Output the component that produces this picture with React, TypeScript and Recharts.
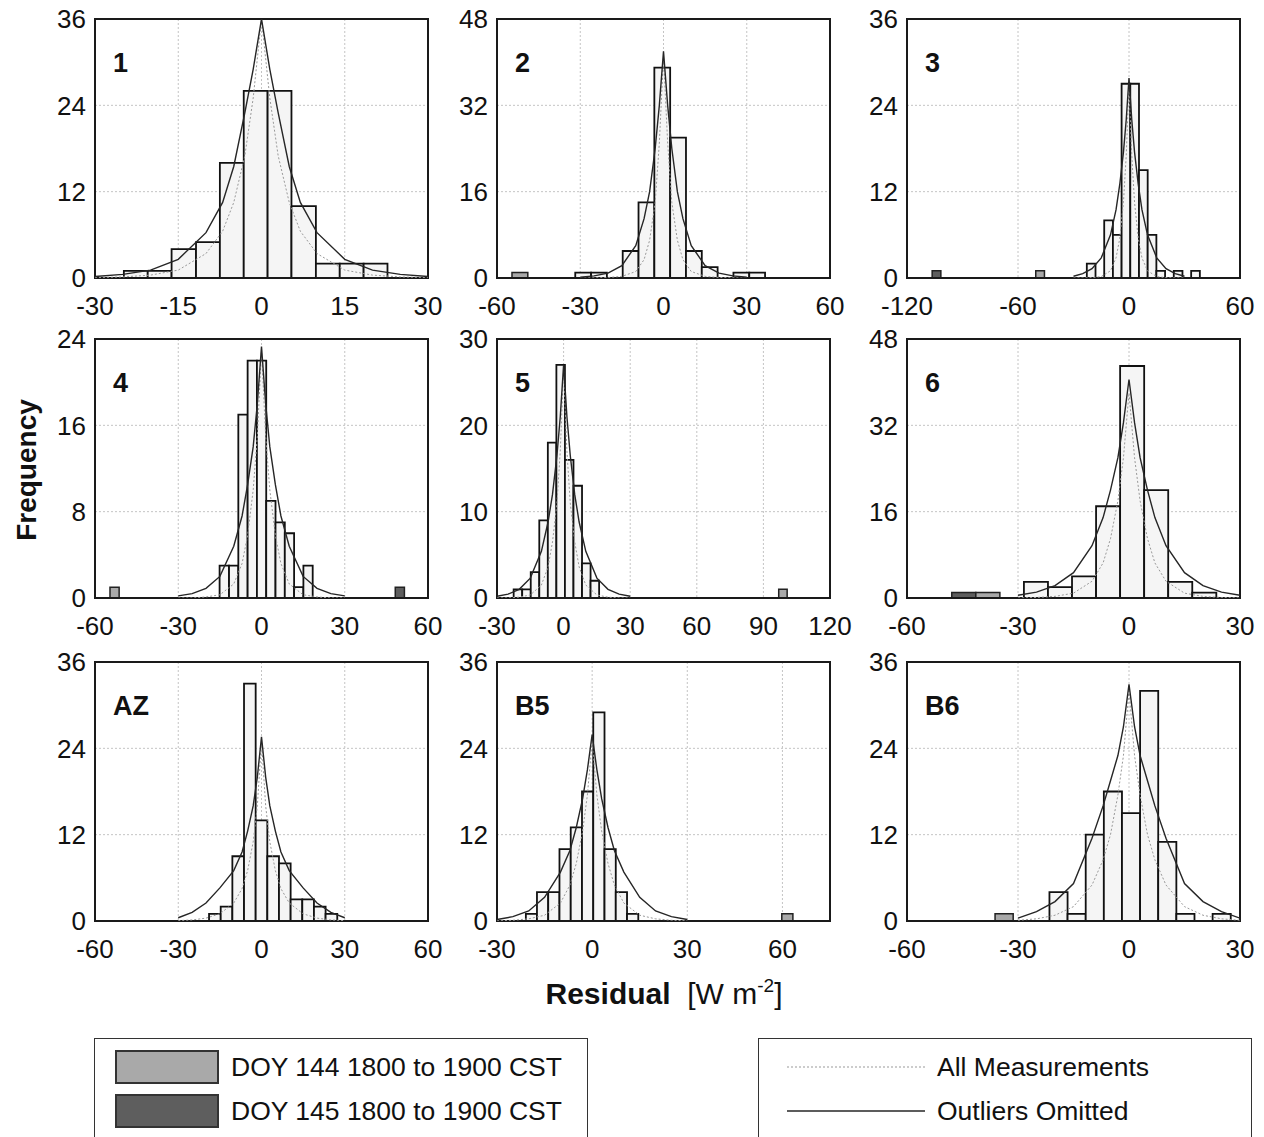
import { ComposedChart, XAxis, YAxis, CartesianGrid, Line, ReferenceArea } from 'recharts'

const CURVE_X = [-30, -25, -20, -15, -10, -7, -5, -3, -1.5, 0, 1.5, 3, 5, 7, 10, 15, 20, 25, 30]

// ---- panel 1
const P1_EDGES = [-24.8, -20.5, -16.2, -11.8, -7.5, -3.2, 1.1, 5.4, 9.8, 14.1, 18.4, 22.7]
const P1_COUNTS = [1, 1, 4, 5, 16, 26, 26, 10, 2, 2, 2]
const P1_ALL = [0.05, 0.15, 0.4, 1.1, 3.4, 6.5, 10.5, 17, 25, 36, 25, 17, 10.5, 6.5, 3.4, 1.1, 0.4, 0.15, 0.05]
const P1_OMIT = [0.2, 0.5, 1.1, 2.6, 6.3, 10.5, 15.5, 23, 29, 36, 29, 23, 15.5, 10.5, 6.3, 2.6, 1.1, 0.5, 0.2]

// ---- panel 2
const P2_EDGES = [-31.8, -26.1, -20.4, -14.7, -9.0, -3.3, 2.4, 8.1, 13.8, 19.5, 25.2, 30.9, 36.6]
const P2_COUNTS = [1, 1, 0, 5, 14, 39, 26, 5, 2, 0, 1, 1]
const P2_OUTLIERS = [{ lo: -54.6, hi: -48.9, n: 1, doy: 144 }]
const P2_ALL = [0, 0.03, 0.1, 0.3, 1.2, 3.4, 7, 14, 25, 41, 25, 14, 7, 3.4, 1.2, 0.3, 0.1, 0.03, 0]
const P2_OMIT = [0.15, 0.4, 0.9, 2.3, 6, 11, 16, 24, 32, 42, 32, 24, 16, 11, 6, 2.3, 0.9, 0.4, 0.15]

// ---- panel 3
const P3_EDGES = [-22.8, -18.1, -13.4, -8.7, -4.0, 0.7, 5.4, 10.1, 14.8, 19.5, 24.2, 28.9, 33.6, 38.3]
const P3_COUNTS = [2, 0, 8, 6, 27, 27, 15, 6, 1, 0, 1, 0, 1]
const P3_OUTLIERS = [
  { lo: -106.4, hi: -101.7, n: 1, doy: 145 },
  { lo: -50.4, hi: -45.7, n: 1, doy: 144 },
]
const P3_ALL = [0, 0, 0.05, 0.2, 1, 2.8, 5.5, 10.5, 17, 27, 17, 10.5, 5.5, 2.8, 1, 0.2, 0.05, 0, 0]
const P3_OMIT = [0.25, 0.6, 1.3, 2.8, 6, 9.5, 13, 17.5, 22, 27.8, 22, 17.5, 13, 9.5, 6, 2.8, 1.3, 0.6, 0.25]

// ---- panel 4
const P4_EDGES = [-15.1, -11.7, -8.35, -5.0, -1.65, 1.7, 5.05, 8.4, 11.75, 15.1, 18.45]
const P4_COUNTS = [3, 3, 17, 22, 22, 9, 7, 6, 1, 3]
const P4_OUTLIERS = [
  { lo: -54.6, hi: -51.3, n: 1, doy: 144 },
  { lo: 48.2, hi: 51.5, n: 1, doy: 145 },
]
const P4_ALL = [0, 0, 0.1, 0.3, 1.3, 3.2, 5.8, 10, 15, 23, 15, 10, 5.8, 3.2, 1.3, 0.3, 0.1, 0, 0]
const P4_OMIT = [0.2, 0.4, 0.9, 2, 4.8, 7.6, 10.5, 14, 18, 23.3, 18, 14, 10.5, 7.6, 4.8, 2, 0.9, 0.4, 0.2]

// ---- panel 5
const P5_EDGES = [-22.5, -18.65, -14.8, -10.95, -7.1, -3.25, 0.6, 4.45, 8.3, 12.15, 16.0]
const P5_COUNTS = [1, 1, 3, 9, 18, 27, 16, 13, 4, 2]
const P5_OUTLIERS = [{ lo: 96.9, hi: 100.7, n: 1, doy: 144 }]
const P5_ALL = [0, 0, 0.1, 0.35, 1.5, 3.6, 6.5, 11, 17, 26.5, 17, 11, 6.5, 3.6, 1.5, 0.35, 0.1, 0, 0]
const P5_OMIT = [0.2, 0.45, 1, 2.3, 5.4, 8.8, 12, 16.5, 21, 27, 21, 16.5, 12, 8.8, 5.4, 2.3, 1, 0.45, 0.2]

// ---- panel 6
const P6_EDGES = [-28.4, -21.9, -15.4, -8.9, -2.4, 4.1, 10.6, 17.1, 23.6]
const P6_COUNTS = [3, 2, 4, 17, 43, 20, 3, 1]
const P6_OUTLIERS = [
  { lo: -47.9, hi: -41.4, n: 1, doy: 145 },
  { lo: -41.4, hi: -34.9, n: 1, doy: 144 },
]
const P6_ALL = [0, 0.1, 0.3, 0.9, 3.1, 6.5, 11, 18, 26, 38, 26, 18, 11, 6.5, 3.1, 0.9, 0.3, 0.1, 0]
const P6_OMIT = [0.5, 1.1, 2.3, 4.7, 9.7, 14.9, 20, 26, 32.5, 40.5, 32.5, 26, 20, 14.9, 9.7, 4.7, 2.3, 1.1, 0.5]

// ---- AZ
const AZ_EDGES = [-18.9, -14.7, -10.5, -6.3, -2.1, 2.1, 6.3, 10.5, 14.7, 18.9, 23.1, 27.3]
const AZ_COUNTS = [1, 2, 9, 33, 14, 9, 8, 3, 3, 2, 1]
const AZ_ALL = [0.05, 0.15, 0.4, 1, 2.5, 4.5, 7, 11, 16, 25, 16, 11, 7, 4.5, 2.5, 1, 0.4, 0.15, 0.05]
const AZ_OMIT = [0.45, 1.2, 2.5, 4.6, 7, 9.6, 12.5, 16, 20, 25.6, 20, 16, 12.5, 9.6, 7, 4.6, 2.5, 1.2, 0.45]

// ---- B5
const B5_EDGES = [-20.9, -17.4, -13.85, -10.3, -6.75, -3.2, 0.35, 3.9, 7.45, 11.0, 14.55]
const B5_COUNTS = [1, 4, 4, 10, 13, 18, 29, 10, 4, 1]
const B5_OUTLIERS = [{ lo: 59.8, hi: 63.3, n: 1, doy: 144 }]
const B5_ALL = [0.03, 0.1, 0.3, 0.8, 2.5, 5, 8, 12.5, 17.5, 25, 17.5, 12.5, 8, 5, 2.5, 0.8, 0.3, 0.1, 0.03]
const B5_OMIT = [0.2, 0.6, 1.4, 3.3, 6.8, 9.8, 13, 17, 21, 25.9, 21, 17, 13, 9.8, 6.8, 3.3, 1.4, 0.6, 0.2]

// ---- B6
const B6_EDGES = [-21.5, -16.6, -11.7, -6.8, -1.9, 3.0, 7.9, 12.8, 17.7, 22.6, 27.5]
const B6_COUNTS = [4, 1, 12, 18, 15, 32, 11, 1, 0, 1]
const B6_OUTLIERS = [{ lo: -36.2, hi: -31.3, n: 1, doy: 144 }]
const B6_ALL = [0.1, 0.3, 0.8, 2, 5, 8.5, 12, 17.5, 23, 32, 23, 17.5, 12, 8.5, 5, 2, 0.8, 0.3, 0.1]
const B6_OMIT = [0.4, 1.3, 2.7, 5.2, 11.5, 16, 19.5, 23, 27, 32.9, 27, 23, 19.5, 16, 11.5, 5.2, 2.7, 1.3, 0.4]

const FONT = '"Liberation Sans", Arial, Helvetica, sans-serif'
const PLOT_W = 333
const PLOT_H = 259
const AXIS_W = 80
const TOP_PAD = 16
const RIGHT_PAD = 30
const XAXIS_H = 50

const DOY_FILL: Record<number, string> = { 144: '#a9a9a9', 145: '#5e5e5e' }

type Outlier = { lo: number; hi: number; n: number; doy: number }

type PanelProps = {
  label: string
  left: number
  top: number
  xDomain: [number, number]
  xTicks: number[]
  yTicks: number[]
  edges: number[]
  counts: number[]
  outliers?: Outlier[]
  allCurve: number[]
  omitCurve: number[]
}

const toPoints = (ys: number[]) => CURVE_X.map((x, i) => ({ x, y: ys[i] }))

const Panel = ({ label, left, top, xDomain, xTicks, yTicks, edges, counts, outliers = [], allCurve, omitCurve }: PanelProps) => {
  const yMax = yTicks[yTicks.length - 1]
  const tick = { fontSize: 26, fill: '#111', fontFamily: FONT }
  return (
    <div style={{ position: 'absolute', left: left - AXIS_W, top: top - TOP_PAD }}>
      <ComposedChart
        width={AXIS_W + PLOT_W + RIGHT_PAD}
        height={TOP_PAD + PLOT_H + XAXIS_H}
        margin={{ top: TOP_PAD, right: RIGHT_PAD, left: 0, bottom: 0 }}
      >
        <CartesianGrid stroke="#c4c4c4" strokeDasharray="2 2" />
        <XAxis
          type="number"
          dataKey="x"
          domain={xDomain}
          ticks={xTicks}
          interval={0}
          allowDataOverflow
          axisLine={false}
          tickLine={false}
          tickSize={0}
          tickMargin={19}
          height={XAXIS_H}
          tick={tick}
        />
        <YAxis
          type="number"
          domain={[0, yMax]}
          ticks={yTicks}
          interval={0}
          allowDataOverflow
          axisLine={false}
          tickLine={false}
          tickSize={0}
          tickMargin={9}
          width={AXIS_W}
          tick={tick}
        />
        {counts.map((c, i) =>
          c > 0 ? (
            <ReferenceArea
              key={`b${i}`}
              x1={edges[i]}
              x2={edges[i + 1]}
              y1={0}
              y2={c}
              fill="#f5f5f5"
              fillOpacity={1}
              stroke="#111"
              strokeWidth={1.8}
            />
          ) : null
        )}
        {outliers.map((o, i) => (
          <ReferenceArea
            key={`o${i}`}
            x1={o.lo}
            x2={o.hi}
            y1={0}
            y2={o.n}
            fill={DOY_FILL[o.doy]}
            fillOpacity={1}
            stroke="#222"
            strokeWidth={1.5}
          />
        ))}
        <Line
          data={toPoints(allCurve)}
          dataKey="y"
          type="linear"
          stroke="#999"
          strokeWidth={1}
          strokeDasharray="2 2"
          dot={false}
          activeDot={false}
          isAnimationActive={false}
        />
        <Line
          data={toPoints(omitCurve)}
          dataKey="y"
          type="linear"
          stroke="#262626"
          strokeWidth={1.4}
          dot={false}
          activeDot={false}
          isAnimationActive={false}
        />
        <ReferenceArea
          x1={xDomain[0]}
          x2={xDomain[1]}
          y1={0}
          y2={yMax}
          fill="none"
          fillOpacity={0}
          stroke="#1a1a1a"
          strokeWidth={2}
        />
      </ComposedChart>
      <div
        style={{
          position: 'absolute',
          left: AXIS_W + 18,
          top: TOP_PAD + 31,
          fontFamily: FONT,
          fontWeight: 'bold',
          fontSize: 27,
          lineHeight: '27px',
          color: '#111',
        }}
      >
        {label}
      </div>
    </div>
  )
}

const COL_LEFT = [95, 497, 907]
const ROW_TOP = [19, 339, 662]

export default function App() {
  return (
    <div
      style={{
        position: 'absolute',
        left: 0,
        top: 0,
        width: 1264,
        height: 1137,
        overflow: 'hidden',
        background: '#fff',
        fontFamily: FONT,
        color: '#111',
      }}
    >
      <Panel label="1" left={COL_LEFT[0]} top={ROW_TOP[0]} xDomain={[-30, 30]} xTicks={[-30, -15, 0, 15, 30]} yTicks={[0, 12, 24, 36]} edges={P1_EDGES} counts={P1_COUNTS} allCurve={P1_ALL} omitCurve={P1_OMIT} />
      <Panel label="2" left={COL_LEFT[1]} top={ROW_TOP[0]} xDomain={[-60, 60]} xTicks={[-60, -30, 0, 30, 60]} yTicks={[0, 16, 32, 48]} edges={P2_EDGES} counts={P2_COUNTS} outliers={P2_OUTLIERS} allCurve={P2_ALL} omitCurve={P2_OMIT} />
      <Panel label="3" left={COL_LEFT[2]} top={ROW_TOP[0]} xDomain={[-120, 60]} xTicks={[-120, -60, 0, 60]} yTicks={[0, 12, 24, 36]} edges={P3_EDGES} counts={P3_COUNTS} outliers={P3_OUTLIERS} allCurve={P3_ALL} omitCurve={P3_OMIT} />
      <Panel label="4" left={COL_LEFT[0]} top={ROW_TOP[1]} xDomain={[-60, 60]} xTicks={[-60, -30, 0, 30, 60]} yTicks={[0, 8, 16, 24]} edges={P4_EDGES} counts={P4_COUNTS} outliers={P4_OUTLIERS} allCurve={P4_ALL} omitCurve={P4_OMIT} />
      <Panel label="5" left={COL_LEFT[1]} top={ROW_TOP[1]} xDomain={[-30, 120]} xTicks={[-30, 0, 30, 60, 90, 120]} yTicks={[0, 10, 20, 30]} edges={P5_EDGES} counts={P5_COUNTS} outliers={P5_OUTLIERS} allCurve={P5_ALL} omitCurve={P5_OMIT} />
      <Panel label="6" left={COL_LEFT[2]} top={ROW_TOP[1]} xDomain={[-60, 30]} xTicks={[-60, -30, 0, 30]} yTicks={[0, 16, 32, 48]} edges={P6_EDGES} counts={P6_COUNTS} outliers={P6_OUTLIERS} allCurve={P6_ALL} omitCurve={P6_OMIT} />
      <Panel label="AZ" left={COL_LEFT[0]} top={ROW_TOP[2]} xDomain={[-60, 60]} xTicks={[-60, -30, 0, 30, 60]} yTicks={[0, 12, 24, 36]} edges={AZ_EDGES} counts={AZ_COUNTS} allCurve={AZ_ALL} omitCurve={AZ_OMIT} />
      <Panel label="B5" left={COL_LEFT[1]} top={ROW_TOP[2]} xDomain={[-30, 75]} xTicks={[-30, 0, 30, 60]} yTicks={[0, 12, 24, 36]} edges={B5_EDGES} counts={B5_COUNTS} outliers={B5_OUTLIERS} allCurve={B5_ALL} omitCurve={B5_OMIT} />
      <Panel label="B6" left={COL_LEFT[2]} top={ROW_TOP[2]} xDomain={[-60, 30]} xTicks={[-60, -30, 0, 30]} yTicks={[0, 12, 24, 36]} edges={B6_EDGES} counts={B6_COUNTS} outliers={B6_OUTLIERS} allCurve={B6_ALL} omitCurve={B6_OMIT} />

      {/* y axis title */}
      <div
        style={{
          position: 'absolute',
          left: 27 - 150,
          top: 470 - 17,
          width: 300,
          height: 34,
          lineHeight: '34px',
          textAlign: 'center',
          fontWeight: 'bold',
          fontSize: 28,
          transform: 'rotate(-90deg)',
        }}
      >
        Frequency
      </div>

      {/* x axis title */}
      <div
        style={{
          position: 'absolute',
          left: 464,
          top: 976,
          width: 400,
          lineHeight: '36px',
          textAlign: 'center',
          fontSize: 30,
          whiteSpace: 'nowrap',
        }}
      >
        <span style={{ fontWeight: 'bold' }}>Residual</span>
        {'\u00a0\u00a0[W m'}
        <sup style={{ fontSize: 19, verticalAlign: 'top', position: 'relative', top: -8 }}>-2</sup>
        {']'}
      </div>

      {/* legend: outlier periods */}
      <div style={{ position: 'absolute', left: 94, top: 1038, width: 492, height: 120, border: '1.5px solid #333' }} />
      {[144, 145].map((d, i) => (
        <div key={d}>
          <div
            style={{
              position: 'absolute',
              left: 115,
              top: 1050 + i * 44,
              width: 100,
              height: 30,
              background: DOY_FILL[d],
              border: '2px solid #333',
            }}
          />
          <div style={{ position: 'absolute', left: 231, top: 1050 + i * 44, lineHeight: '34px', fontSize: 26.5, whiteSpace: 'nowrap' }}>
            {`DOY ${d} 1800 to 1900 CST`}
          </div>
        </div>
      ))}

      {/* legend: fitted curves */}
      <div style={{ position: 'absolute', left: 758, top: 1038, width: 492, height: 120, border: '1.5px solid #333' }} />
      <svg style={{ position: 'absolute', left: 780, top: 1050 }} width={150} height={80}>
        <line x1={7} x2={145} y1={17} y2={17} stroke="#999" strokeWidth={1} strokeDasharray="2 2" />
        <line x1={7} x2={145} y1={61} y2={61} stroke="#262626" strokeWidth={1.4} />
      </svg>
      <div style={{ position: 'absolute', left: 937, top: 1050, lineHeight: '34px', fontSize: 26.5, whiteSpace: 'nowrap' }}>
        All Measurements
      </div>
      <div style={{ position: 'absolute', left: 937, top: 1094, lineHeight: '34px', fontSize: 26.5, whiteSpace: 'nowrap' }}>
        Outliers Omitted
      </div>
    </div>
  )
}
